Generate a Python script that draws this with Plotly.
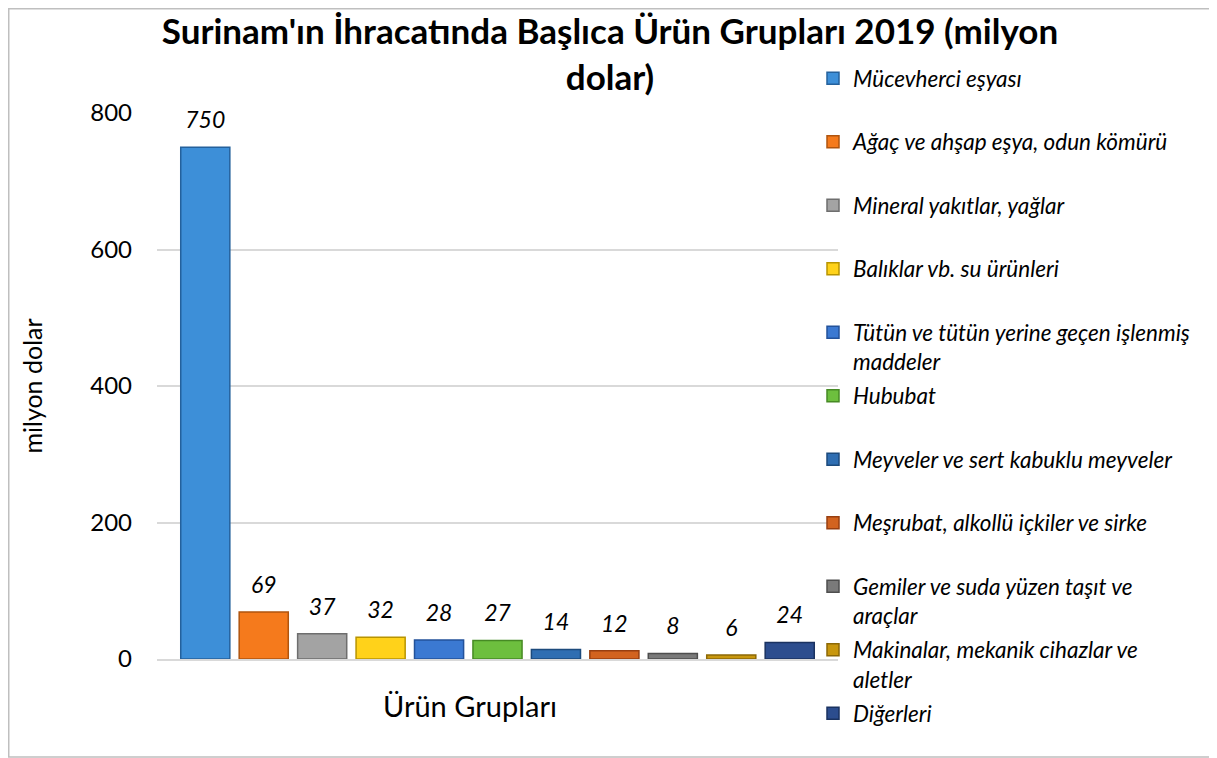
import plotly.graph_objects as go

categories = [
    "Mücevherci eşyası",
    "Ağaç ve ahşap eşya, odun kömürü",
    "Mineral yakıtlar, yağlar",
    "Balıklar vb. su ürünleri",
    "Tütün ve tütün yerine geçen işlenmiş<br>maddeler",
    "Hububat",
    "Meyveler ve sert kabuklu meyveler",
    "Meşrubat, alkollü içkiler ve sirke",
    "Gemiler ve suda yüzen taşıt ve<br>araçlar",
    "Makinalar, mekanik cihazlar ve<br>aletler",
    "Diğerleri",
]
values = [750, 69, 37, 32, 28, 27, 14, 12, 8, 6, 24]
colors = ["#3D8FD8", "#F57A1C", "#A3A3A3", "#FFD21A", "#3B79D2", "#6DBF3E",
          "#2F6EB2", "#D2631F", "#7A7A7A", "#C8970E", "#2C4D8E"]
edge_colors = ["#24619C", "#B0540E", "#6E6E6E", "#B89400", "#23529A", "#468A24",
               "#1C4A7C", "#983F10", "#4E4E4E", "#8C6806", "#1A3260"]
y_ticks = [0, 200, 400, 600, 800]
x_label = "Ürün Grupları"
y_label = "milyon dolar"
title = "Surinam'ın İhracatında Başlıca Ürün Grupları 2019 (milyon<br>dolar)"

FONT = "Lato"
# page body has an 8px margin, so the figure is laid out 8px smaller
W, H = 1209, 750
ml, mr, mt, mb = 149, 379, 105, 99
pw, ph = W - ml - mr, H - mt - mb

fig = go.Figure()
for i, (name, v) in enumerate(zip(categories, values)):
    label = name if "<br>" in name else name + "<br> "
    fig.add_trace(go.Bar(
        x=[x_label], y=[v], name=label, legendgroup=f"g{i}",
        offsetgroup=str(i), alignmentgroup="a",
        marker=dict(color=colors[i], line=dict(color=edge_colors[i], width=1.5)),
        hoverinfo="y",
    ))
# value labels, grouped like the bars, lifted above the bar tops by an invisible marker
for i, v in enumerate(values):
    fig.add_trace(go.Scatter(
        x=[x_label], y=[v], mode="markers+text", text=[str(v)],
        textposition="top center", offsetgroup=str(i), alignmentgroup="a",
        marker=dict(size=20, opacity=0), showlegend=False, hoverinfo="skip",
        cliponaxis=False,
        textfont=dict(family=FONT, size=23, color="#000000", style="italic"),
    ))

# light border around whole chart (paper coords computed from margins)
fig.add_shape(type="rect", xref="paper", yref="paper",
              x0=(0.75 - ml) / pw, x1=(W - 1 - ml) / pw,
              y0=-(mb - 1) / ph, y1=1 + (mt - 0.75) / ph,
              line=dict(color="#BFBFBF", width=1.5), fillcolor="rgba(0,0,0,0)", layer="below")

fig.add_annotation(text=x_label, xref="paper", yref="paper",
                   x=(462 - ml) / pw, y=-(697 - (H - mb)) / ph,
                   showarrow=False, xanchor="center", yanchor="middle",
                   font=dict(family=FONT, size=29, color="#000000"))

fig.update_layout(
    width=W, height=H,
    margin=dict(l=ml, r=mr, t=mt, b=mb, autoexpand=False),
    paper_bgcolor="white", plot_bgcolor="white",
    barmode="group", bargap=0.056, bargroupgap=0.16,
    scattermode="group", scattergap=0.056,
    title=dict(text=title, x=602 / W, xanchor="center", y=1 - 36 / H, yanchor="top",
               font=dict(family=FONT, size=35, color="#000000", weight="bold")),
    xaxis=dict(showticklabels=False, showline=True, linecolor="#D9D9D9", linewidth=1.5,
               ticks="", showgrid=False, automargin=False),
    yaxis=dict(range=[0, 800], tickvals=y_ticks, showgrid=True, gridcolor="#D9D9D9",
               gridwidth=1.5, zeroline=False, showline=False, ticks="", automargin=False,
               ticklabelstandoff=24,
               tickfont=dict(family=FONT, size=24, color="#000000"),
               title=dict(text=y_label, font=dict(family=FONT, size=25, color="#000000"),
                          standoff=40)),
    legend=dict(xref="container", yref="container", x=805 / W, y=1 - 49 / H,
                xanchor="left", yanchor="top", valign="top", maxheight=720,
                font=dict(family=FONT, size=22.5, color="#000000", style="italic"),
                tracegroupgap=2, itemwidth=30, bgcolor="rgba(0,0,0,0)"),
    showlegend=True,
)

fig.write_html("out.html")
